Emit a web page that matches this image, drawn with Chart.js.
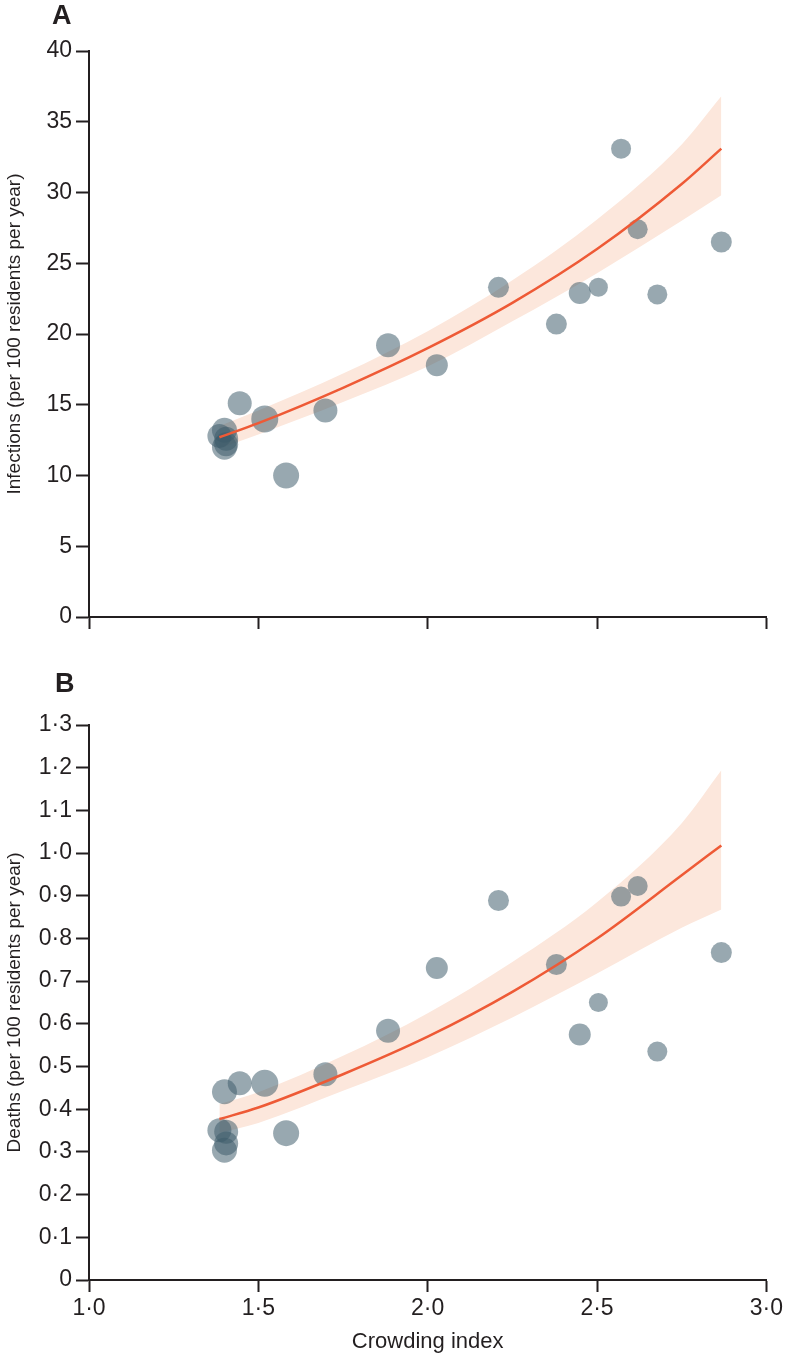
<!DOCTYPE html>
<html>
<head>
<meta charset="utf-8">
<script src="https://cdn.jsdelivr.net/npm/chart.js@4.4.1/dist/chart.umd.min.js"></script>
<style>
  body { margin: 0; background: #fff; }
  #wrap { position: relative; width: 786px; height: 1358px; }
  canvas { position: absolute; left: 0; }
  .tag { position: absolute; font: bold 27px "Liberation Sans", Arial, sans-serif; color: #231f20; line-height: 1; }
</style>
</head>
<body>
<div id="wrap">
  <canvas id="chartA" style="top:0" width="786" height="655"></canvas>
  <canvas id="chartB" style="top:655px" width="786" height="703"></canvas>
  <div class="tag" style="left:52px;top:2px">A</div>
  <div class="tag" style="left:55px;top:670px">B</div>
</div>
<script>
// crowding index of each region (x) and the two outcomes
const crowding   = [1.385, 1.40, 1.405, 1.405, 1.40, 1.445, 1.519, 1.582, 1.698, 1.883, 2.027, 2.209, 2.380, 2.449, 2.504, 2.571, 2.620, 2.678, 2.867];
const infections = [12.8, 13.2, 12.6, 12.2, 12.0, 15.1, 14.0, 10.0, 14.6, 19.2, 17.8, 23.3, 20.7, 22.9, 23.3, 33.1, 27.4, 22.8, 26.5];
const deaths     = [0.351, 0.441, 0.347, 0.320, 0.304, 0.461, 0.461, 0.344, 0.482, 0.584, 0.731, 0.889, 0.739, 0.575, 0.650, 0.898, 0.923, 0.535, 0.767];
// marker radius (population weight), px
const weight     = [12, 12.5, 12, 12, 12.5, 12, 13.5, 13, 12, 12, 11, 10.5, 10.5, 11, 9.5, 10, 10, 10, 10.5];

// fitted curve and 95% band
const fitX       = [1.385, 1.5, 1.75, 2.0, 2.25, 2.5, 2.75, 2.867];
const infFit     = [12.7, 13.7, 16.2, 19.0, 22.2, 26.0, 30.6, 33.1];
const infUpper   = [13.5, 14.6, 17.2, 20.2, 23.8, 28.1, 33.4, 36.8];
const infLower   = [11.9, 12.9, 15.2, 17.7, 20.9, 24.3, 28.0, 29.8];
const deathFit   = [0.377, 0.404, 0.482, 0.570, 0.675, 0.800, 0.948, 1.018];
const deathUpper = [0.412, 0.44, 0.525, 0.625, 0.745, 0.885, 1.07, 1.194];
const deathLower = [0.345, 0.368, 0.443, 0.522, 0.615, 0.718, 0.825, 0.868];

const xTicks = [1.0, 1.5, 2.0, 2.5, 3.0];
const yTicksA = [0, 5, 10, 15, 20, 25, 30, 35, 40];
const yTicksB = [0, 0.1, 0.2, 0.3, 0.4, 0.5, 0.6, 0.7, 0.8, 0.9, 1.0, 1.1, 1.2, 1.3];

const ink = '#231f20';
const dotColor = 'rgba(60, 90, 105, 0.53)';
const bandColor = '#fce7dc';
const lineColor = '#ee5a36';
const fontFamily = '"Liberation Sans", Arial, sans-serif';

Chart.defaults.color = ink;
Chart.defaults.font.family = fontFamily;

function dot(v, d) {
    if (v === 0) return '0';
    return v.toFixed(d).replace('.', '·');
}
function pts(xs, ys) {
    return xs.map((x, i) => ({ x: x, y: ys[i] }));
}

function makePanel(id, opts) {
    const ctx = document.getElementById(id).getContext('2d');
    return new Chart(ctx, {
        type: 'scatter',
        data: {
            datasets: [{
                type: 'line',
                data: pts(fitX, opts.upper),
                borderWidth: 0,
                pointRadius: 0,
                backgroundColor: bandColor,
                fill: '+1',
                cubicInterpolationMode: 'monotone',
                order: 3
            },
            {
                type: 'line',
                data: pts(fitX, opts.lower),
                borderWidth: 0,
                pointRadius: 0,
                fill: false,
                cubicInterpolationMode: 'monotone',
                order: 4
            },
            {
                data: pts(crowding, opts.values),
                pointRadius: c => weight[c.dataIndex],
                backgroundColor: dotColor,
                borderWidth: 0,
                order: 2
            },
            {
                type: 'line',
                data: pts(fitX, opts.fit),
                borderColor: lineColor,
                borderWidth: 2.5,
                pointRadius: 0,
                fill: false,
                cubicInterpolationMode: 'monotone',
                order: 1
            }
            ]
        },
        options: {
            responsive: false,
            animation: false,
            devicePixelRatio: 1,
            layout: {
                padding: { top: opts.top, right: 16, left: 0, bottom: 0 }
            },
            plugins: {
                legend: { display: false },
                tooltip: { enabled: false }
            },
            scales: {
                x: {
                    type: 'linear',
                    min: 1,
                    max: 3,
                    afterBuildTicks: s => { s.ticks = xTicks.map(v => ({ value: v })); },
                    afterFit: s => { s.height = opts.xHeight; },
                    grid: { display: true, drawOnChartArea: false, drawTicks: true, tickLength: 12, tickWidth: 2, tickColor: ink },
                    border: { display: true, color: ink, width: 2 },
                    ticks: {
                        color: opts.xLabels ? ink : 'rgba(0,0,0,0)',
                        font: { size: 23 },
                        padding: 3,
                        maxRotation: 0,
                        callback: v => dot(v, 1)
                    },
                    title: {
                        display: opts.xLabels,
                        text: 'Crowding index',
                        font: { size: 22 },
                        padding: { top: 0, bottom: 3 }
                    }
                },
                y: {
                    type: 'linear',
                    min: 0,
                    max: opts.yMax,
                    afterBuildTicks: s => { s.ticks = opts.yTicks.map(v => ({ value: v })); },
                    afterFit: s => { s.width = 89; },
                    grid: { display: true, drawOnChartArea: false, drawTicks: true, tickLength: 13, tickWidth: 2, tickColor: ink },
                    border: { display: true, color: ink, width: 2 },
                    ticks: {
                        font: { size: 23 },
                        padding: 4,
                        callback: opts.yFormat
                    },
                    title: {
                        display: true,
                        text: opts.yTitle,
                        font: { size: 19 },
                        padding: { top: 3, bottom: 0 }
                    }
                }
            }
        }
    });
}

makePanel('chartA', {
    values: infections, fit: infFit, upper: infUpper, lower: infLower,
    yMax: 40, yTicks: yTicksA, yFormat: v => String(v),
    yTitle: 'Infections (per 100 residents per year)',
    top: 51, xHeight: 38, xLabels: false
});

makePanel('chartB', {
    values: deaths, fit: deathFit, upper: deathUpper, lower: deathLower,
    yMax: 1.3, yTicks: yTicksB, yFormat: v => dot(v, 1),
    yTitle: 'Deaths (per 100 residents per year)',
    top: 70, xHeight: 78, xLabels: true
});
</script>
</body>
</html>
